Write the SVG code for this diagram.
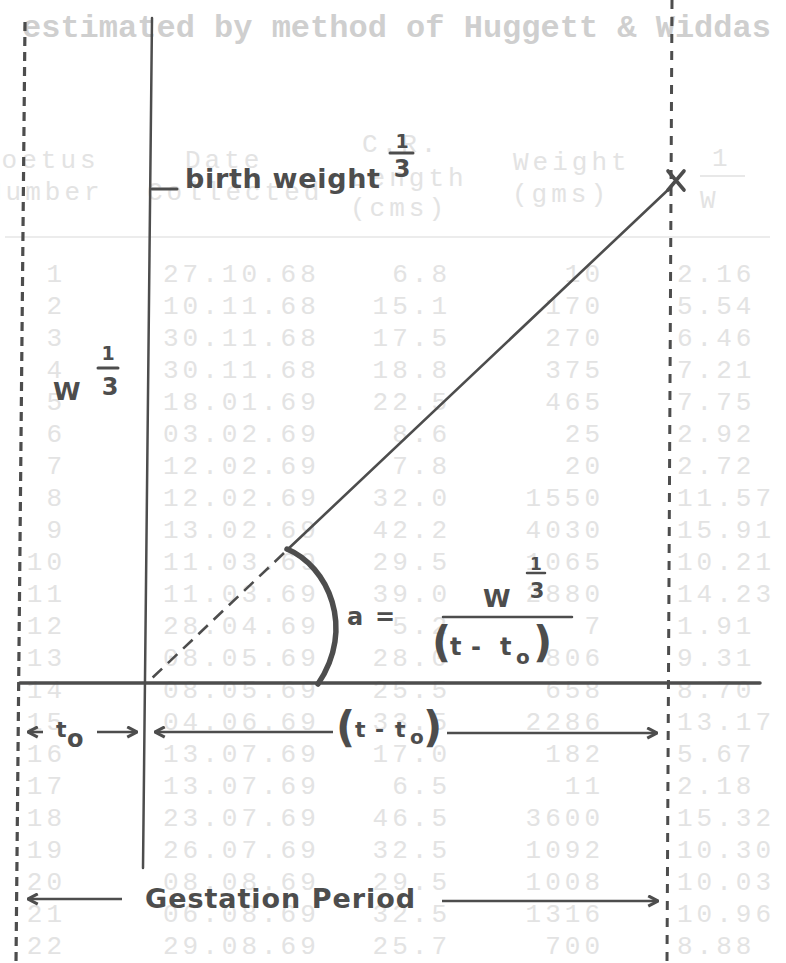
<svg xmlns="http://www.w3.org/2000/svg" width="786" height="963" viewBox="0 0 786 963">
<defs>
<marker id="ah" viewBox="0 0 12 12" refX="11" refY="6" markerWidth="13" markerHeight="13" markerUnits="userSpaceOnUse" orient="auto-start-reverse">
<path d="M2,1.2 L11,6 L2,10.8" fill="none" stroke="#4d4d4d" stroke-width="2.8"/>
</marker>
</defs>
<style>
.bg{font-family:"Liberation Mono",monospace;font-size:26px;letter-spacing:4px;fill:#e3e3e3}
.ttl{font-family:"Liberation Mono",monospace;font-size:32px;fill:#cfcfcf;font-weight:bold}
.end{text-anchor:end}
.lbl{font-family:"DejaVu Sans","Liberation Sans",sans-serif;font-weight:bold;fill:#4d4d4d}
.mid{text-anchor:middle}
.ln{stroke:#4d4d4d;fill:none;stroke-linecap:round}
.arr{stroke:#4d4d4d;stroke-width:2.6;fill:none}
.dash{stroke:#4d4d4d;fill:none}
</style>
<rect width="786" height="963" fill="#ffffff"/>

<g id="background-table">
<text class="ttl" x="22" y="37">estimated by method of Huggett &amp; Widdas</text>
<text class="bg" x="-18" y="168">Foetus</text>
<text class="bg" x="-14" y="200">Number</text>
<text class="bg" x="185" y="168">Date</text>
<text class="bg" x="147" y="200">Collected</text>
<text class="bg" x="362" y="152">C.R.</text>
<text class="bg" x="350" y="186">Length</text>
<text class="bg" x="350" y="216">(cms)</text>
<text class="bg" x="513" y="170">Weight</text>
<text class="bg" x="512" y="202">(gms)</text>
<text class="bg" x="712" y="166">1</text>
<line x1="700" y1="176" x2="745" y2="176" stroke="#e8e8e8" stroke-width="2"/>
<text class="bg" x="700" y="208">W</text>
<line x1="5" y1="237" x2="770" y2="237" stroke="#ececec" stroke-width="2"/>
<g class="bg">
<text class="end" x="66" y="282">1</text><text x="163" y="282">27.10.68</text><text class="end" x="451" y="282">6.8</text><text class="end" x="604" y="282">10</text><text x="677" y="282">2.16</text>
<text class="end" x="66" y="314">2</text><text x="163" y="314">10.11.68</text><text class="end" x="451" y="314">15.1</text><text class="end" x="604" y="314">170</text><text x="677" y="314">5.54</text>
<text class="end" x="66" y="346">3</text><text x="163" y="346">30.11.68</text><text class="end" x="451" y="346">17.5</text><text class="end" x="604" y="346">270</text><text x="677" y="346">6.46</text>
<text class="end" x="66" y="378">4</text><text x="163" y="378">30.11.68</text><text class="end" x="451" y="378">18.8</text><text class="end" x="604" y="378">375</text><text x="677" y="378">7.21</text>
<text class="end" x="66" y="410">5</text><text x="163" y="410">18.01.69</text><text class="end" x="451" y="410">22.5</text><text class="end" x="604" y="410">465</text><text x="677" y="410">7.75</text>
<text class="end" x="66" y="442">6</text><text x="163" y="442">03.02.69</text><text class="end" x="451" y="442">8.6</text><text class="end" x="604" y="442">25</text><text x="677" y="442">2.92</text>
<text class="end" x="66" y="474">7</text><text x="163" y="474">12.02.69</text><text class="end" x="451" y="474">7.8</text><text class="end" x="604" y="474">20</text><text x="677" y="474">2.72</text>
<text class="end" x="66" y="506">8</text><text x="163" y="506">12.02.69</text><text class="end" x="451" y="506">32.0</text><text class="end" x="604" y="506">1550</text><text x="677" y="506">11.57</text>
<text class="end" x="66" y="538">9</text><text x="163" y="538">13.02.69</text><text class="end" x="451" y="538">42.2</text><text class="end" x="604" y="538">4030</text><text x="677" y="538">15.91</text>
<text class="end" x="66" y="570">10</text><text x="163" y="570">11.03.69</text><text class="end" x="451" y="570">29.5</text><text class="end" x="604" y="570">1065</text><text x="677" y="570">10.21</text>
<text class="end" x="66" y="602">11</text><text x="163" y="602">11.03.69</text><text class="end" x="451" y="602">39.0</text><text class="end" x="604" y="602">2880</text><text x="677" y="602">14.23</text>
<text class="end" x="66" y="634">12</text><text x="163" y="634">28.04.69</text><text class="end" x="451" y="634">5.2</text><text class="end" x="604" y="634">7</text><text x="677" y="634">1.91</text>
<text class="end" x="66" y="666">13</text><text x="163" y="666">08.05.69</text><text class="end" x="451" y="666">28.0</text><text class="end" x="604" y="666">806</text><text x="677" y="666">9.31</text>
<text class="end" x="66" y="698">14</text><text x="163" y="698">08.05.69</text><text class="end" x="451" y="698">25.5</text><text class="end" x="604" y="698">658</text><text x="677" y="698">8.70</text>
<text class="end" x="66" y="730">15</text><text x="163" y="730">04.06.69</text><text class="end" x="451" y="730">33.5</text><text class="end" x="604" y="730">2286</text><text x="677" y="730">13.17</text>
<text class="end" x="66" y="762">16</text><text x="163" y="762">13.07.69</text><text class="end" x="451" y="762">17.0</text><text class="end" x="604" y="762">182</text><text x="677" y="762">5.67</text>
<text class="end" x="66" y="794">17</text><text x="163" y="794">13.07.69</text><text class="end" x="451" y="794">6.5</text><text class="end" x="604" y="794">11</text><text x="677" y="794">2.18</text>
<text class="end" x="66" y="826">18</text><text x="163" y="826">23.07.69</text><text class="end" x="451" y="826">46.5</text><text class="end" x="604" y="826">3600</text><text x="677" y="826">15.32</text>
<text class="end" x="66" y="858">19</text><text x="163" y="858">26.07.69</text><text class="end" x="451" y="858">32.5</text><text class="end" x="604" y="858">1092</text><text x="677" y="858">10.30</text>
<text class="end" x="66" y="890">20</text><text x="163" y="890">08.08.69</text><text class="end" x="451" y="890">29.5</text><text class="end" x="604" y="890">1008</text><text x="677" y="890">10.03</text>
<text class="end" x="66" y="922">21</text><text x="163" y="922">06.08.69</text><text class="end" x="451" y="922">32.5</text><text class="end" x="604" y="922">1316</text><text x="677" y="922">10.96</text>
<text class="end" x="66" y="954">22</text><text x="163" y="954">29.08.69</text><text class="end" x="451" y="954">25.7</text><text class="end" x="604" y="954">700</text><text x="677" y="954">8.88</text>
</g>
</g>

<g id="boundary-lines">
<line class="dash" x1="25" y1="22" x2="16" y2="963" stroke-width="3.2" stroke-dasharray="9 6"/>
<line class="dash" x1="672" y1="0" x2="667" y2="963" stroke-width="3" stroke-dasharray="9 8"/>
</g>

<g id="axes">
<line class="ln" x1="152" y1="18" x2="143" y2="868" stroke-width="2.5"/>
<line class="ln" x1="20" y1="683" x2="760" y2="683" stroke-width="3.5"/>
</g>

<g id="growth-line">
<line class="ln" x1="670" y1="188" x2="287" y2="550" stroke-width="2.6"/>
<line class="dash" x1="284" y1="553" x2="149" y2="681" stroke-width="2.6" stroke-dasharray="13 8"/>
<path class="ln" d="M668,171 L684,190 M684,171 L668,190" stroke-width="3.6"/>
</g>

<g id="angle-arc">
<path class="ln" d="M287,549 C328,566 356,628 318,684" stroke-width="5.5" stroke-linecap="butt"/>
</g>

<g id="label-birth-weight">
<line class="ln" x1="152" y1="189" x2="177" y2="189" stroke-width="3" stroke-linecap="butt"/>
<text class="lbl" x="185" y="188" font-size="27" textLength="195" lengthAdjust="spacing">birth weight</text>
<text class="lbl mid" x="402" y="148" font-size="19">1</text>
<line class="ln" x1="390" y1="153" x2="413" y2="153" stroke-width="3" stroke-linecap="butt"/>
<text class="lbl mid" x="402" y="177" font-size="24">3</text>
</g>

<g id="label-w-third">
<text class="lbl" x="53" y="400" font-size="25">W</text>
<text class="lbl mid" x="108" y="360" font-size="19">1</text>
<line class="ln" x1="98" y1="368" x2="118" y2="368" stroke-width="3" stroke-linecap="butt"/>
<text class="lbl mid" x="110" y="395" font-size="24">3</text>
</g>

<g id="formula">
<text class="lbl" x="347" y="625" font-size="24" textLength="48" lengthAdjust="spacing">a =</text>
<text class="lbl" x="483" y="607" font-size="25">W</text>
<text class="lbl mid" x="536" y="570" font-size="17">1</text>
<line class="ln" x1="527" y1="573" x2="545" y2="573" stroke-width="2.5" stroke-linecap="butt"/>
<text class="lbl mid" x="537" y="598" font-size="21">3</text>
<line class="ln" x1="443" y1="617" x2="572" y2="617" stroke-width="2.5" stroke-linecap="butt"/>
<text class="lbl" x="432" y="657" font-size="42">(</text>
<text class="lbl" x="450" y="655" font-size="24">t</text>
<text class="lbl" x="471" y="655" font-size="24">-</text>
<text class="lbl" x="500" y="655" font-size="24">t</text>
<text class="lbl" x="516" y="664" font-size="20">o</text>
<text class="lbl" x="533" y="657" font-size="42">)</text>
</g>

<g id="label-t0">
<text class="lbl" x="56" y="737" font-size="22">t</text>
<text class="lbl" x="67" y="747" font-size="24">o</text>
</g>

<g id="label-t-minus-t0">
<text class="lbl" x="336" y="742" font-size="42">(</text>
<text class="lbl" x="355" y="737" font-size="22">t</text>
<text class="lbl" x="375" y="737" font-size="22">-</text>
<text class="lbl" x="395" y="737" font-size="22">t</text>
<text class="lbl" x="410" y="744" font-size="20">o</text>
<text class="lbl" x="423" y="742" font-size="42">)</text>
</g>

<g id="label-gestation">
<text class="lbl" x="145" y="908" font-size="27" textLength="270" lengthAdjust="spacing">Gestation Period</text>
</g>

<g id="connectors">
<line class="arr" x1="28" y1="732" x2="43" y2="732" marker-start="url(#ah)"/>
<line class="arr" x1="97" y1="732" x2="137" y2="732" marker-end="url(#ah)"/>
<line class="arr" x1="155" y1="732" x2="333" y2="732" marker-start="url(#ah)"/>
<line class="arr" x1="447" y1="733" x2="657" y2="733" marker-end="url(#ah)"/>
<line class="arr" x1="28" y1="899" x2="122" y2="899" marker-start="url(#ah)"/>
<line class="arr" x1="442" y1="901" x2="658" y2="901" marker-end="url(#ah)"/>
</g>
</svg>
